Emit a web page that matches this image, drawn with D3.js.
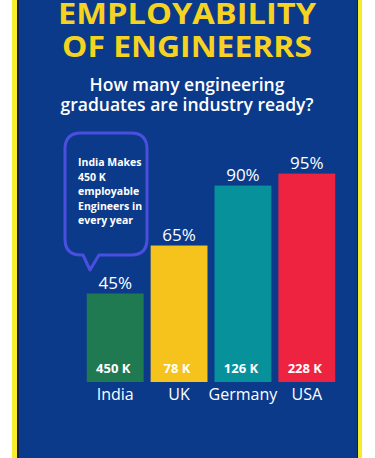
<!DOCTYPE html>
<html><head><meta charset="utf-8">
<script src="https://cdn.jsdelivr.net/npm/d3@7"></script>
<style>html,body{margin:0;padding:0;background:#fff;}svg{display:block;}</style>
</head><body>
<svg id="c" width="375" height="458"></svg>
<script>
const categories = ["India", "UK", "Germany", "USA"];
const percentValues = [45, 65, 90, 95];
const graduateLabels = ["450 K", "78 K", "126 K", "228 K"];
const barColors = ["#1f7a52", "#f6c31c", "#07919b", "#ee2340"];
const titleLines = ["EMPLOYABILITY", "OF ENGINEERRS"];
const subtitleLines = ["How many engineering", "graduates are industry ready?"];
const calloutLines = ["India Makes", "450 K", "employable", "Engineers in", "every year"];

const svg = d3.select("#c");
const W = 375, H = 458;
// frame
svg.append("rect").attr("x",12).attr("y",0).attr("width",350).attr("height",H).attr("fill","#f7ec2c");
svg.append("rect").attr("x",17).attr("y",0).attr("width",341).attr("height",H).attr("fill","#10204a");
svg.append("rect").attr("x",19).attr("y",0).attr("width",338).attr("height",H).attr("fill","#0b3a8a");

const font = "'Open Sans', sans-serif";
const titleWidths = [258, 250];
svg.selectAll("text.title").data(titleLines).join("text")
  .attr("class","title").attr("x",187).attr("y",(d,i)=>24+i*33)
  .attr("text-anchor","middle").attr("fill","#f5d320")
  .attr("textLength",(d,i)=>titleWidths[i]).attr("lengthAdjust","spacingAndGlyphs")
  .style("font-family",font).style("font-weight",700).style("font-size","29px")
  .text(d=>d);
svg.selectAll("text.sub").data(subtitleLines).join("text")
  .attr("class","sub").attr("x",187).attr("y",(d,i)=>91+i*19.5)
  .attr("text-anchor","middle").attr("fill","#ffffff")
  .style("font-family",font).style("font-weight",600).style("font-size","17.5px")
  .text(d=>d);

const x = d3.scaleBand().domain(categories).range([85.5,336.5]).paddingInner(0.11).paddingOuter(0.02);
const baseY = 382;
const y = d3.scaleLinear().domain([8.1, 100]).range([baseY, baseY-220.4]);

const g = svg.append("g");
g.selectAll("rect.bar").data(categories).join("rect").attr("class","bar")
  .attr("x",d=>x(d)).attr("width",x.bandwidth())
  .attr("y",(d,i)=>y(percentValues[i])).attr("height",(d,i)=>baseY-y(percentValues[i]))
  .attr("fill",(d,i)=>barColors[i]);
g.selectAll("text.pct").data(categories).join("text").attr("class","pct")
  .attr("x",d=>x(d)+x.bandwidth()/2).attr("y",(d,i)=>y(percentValues[i])-5)
  .attr("text-anchor","middle").attr("fill","#fff")
  .style("font-family",font).style("font-weight",500).style("font-size","17px").text((d,i)=>percentValues[i]+"%");
g.selectAll("text.val").data(categories).join("text").attr("class","val")
  .attr("x",d=>x(d)+x.bandwidth()/2-2).attr("y",baseY-9)
  .attr("text-anchor","middle").attr("fill","#fff")
  .style("font-family",font).style("font-weight",700).style("font-size","13px").text((d,i)=>graduateLabels[i]);

const xAxis = d3.axisBottom(x).tickSize(0).tickPadding(0);
const ax = svg.append("g").attr("transform",`translate(0,${baseY})`).call(xAxis);
ax.select(".domain").remove();
ax.selectAll("text").attr("dy",0).attr("y",18).attr("fill","#fff")
  .style("font-family",font).style("font-weight",500).style("font-size","16px");

// callout
const bx=65, by=133, bw=82, bh=122, r=16, tipX=90, tipY=270;
const p = d3.path();
p.moveTo(bx+r,by);
p.lineTo(bx+bw-r,by); p.quadraticCurveTo(bx+bw,by,bx+bw,by+r);
p.lineTo(bx+bw,by+bh-r); p.quadraticCurveTo(bx+bw,by+bh,bx+bw-r,by+bh);
p.lineTo(tipX+9,by+bh); p.lineTo(tipX,tipY); p.lineTo(tipX-7,by+bh);
p.lineTo(bx+r,by+bh); p.quadraticCurveTo(bx,by+bh,bx,by+bh-r);
p.lineTo(bx,by+r); p.quadraticCurveTo(bx,by,bx+r,by);
p.closePath();
svg.append("path").attr("d",p.toString()).attr("fill","none").attr("stroke","#4b4fe0").attr("stroke-width",3).attr("stroke-linejoin","round");
svg.selectAll("text.call").data(calloutLines).join("text").attr("class","call")
  .attr("x",78).attr("y",(d,i)=>166+i*14.5).attr("fill","#fff")
  .style("font-family",font).style("font-weight",700).style("font-size","10.5px").text(d=>d);
</script>
</body></html>
